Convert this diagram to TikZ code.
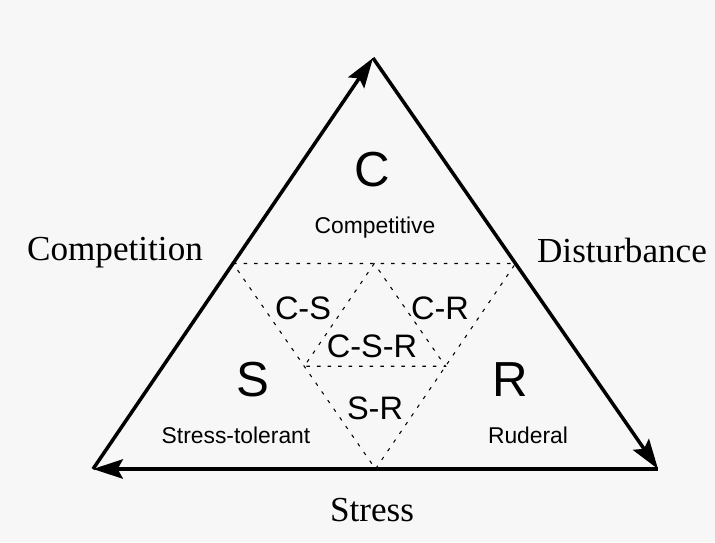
\documentclass[tikz,border=0pt]{standalone}
\usepackage{fontspec}
\setmainfont{Liberation Serif}
\setsansfont{Liberation Sans}
\usepackage{tikz}
\usetikzlibrary{arrows.meta,calc}

\begin{document}
\begin{tikzpicture}[line join=miter,
                    side/.style={line width=2pt, -{Stealth[length=17pt,width=11pt,inset=3pt]}},
                    split/.style={line width=0.6pt, dash pattern=on 2pt off 4pt},
                    axis/.style={font=\fontsize{20}{24}\selectfont},
                    corner/.style={font=\sffamily\fontsize{28}{32}\selectfont},
                    kind/.style={font=\sffamily\fontsize{13}{15}\selectfont},
                    mixed/.style={font=\sffamily\fontsize{18.5}{22}\selectfont}]
    %\draw[help lines] (0,0) grid (14,10);
    \useasboundingbox[fill=black!3] (0,0) rectangle (14.3,10.84);

   \coordinate (top) at (7.46,9.68);
   \coordinate (left) at (1.86,1.46);
   \coordinate (right) at (13.16,1.46);

   % midpoints of the sides
   \coordinate (lmid) at ($(left)!0.5!(top)$);
   \coordinate (rmid) at ($(right)!0.5!(top)$);
   \coordinate (bmid) at ($(left)!0.5!(right)$);
   % inner triangle
   \coordinate (tin) at ($(lmid)!0.5!(rmid)$);
   \coordinate (lin) at ($(lmid)!0.5!(bmid)$);
   \coordinate (rin) at ($(rmid)!0.5!(bmid)$);

   % dotted subdivisions
   \draw[split] (lmid) -- (rmid) -- (bmid) -- cycle;
   \draw[split] (tin) -- (lin) -- (rin) -- cycle;

   % sides with arrows
   \draw[side] (left) -- (top);
   \draw[side] (top) -- (right);
   \draw[side] (right) -- (left);

   % axis labels
   \node[axis] (competition) at (2.3,5.78) {Competition};
   \node[axis] (disturbance) at (12.44,5.84) {Disturbance};
   \node[axis] (stress) at (7.44,0.64) {Stress};

   % strategies
   \node[corner] (c) at (7.44,7.44) {C};
   \node[kind] (competitive) at (7.5,6.28) {Competitive};
   \node[corner] (s) at (5.06,3.24) {S};
   \node[kind] (tolerant) at (4.72,2.14) {Stress-tolerant};
   \node[corner] (r) at (10.2,3.24) {R};
   \node[kind] (ruderal) at (10.56,2.14) {Ruderal};

   \node[mixed] (cs) at (6.06,4.68) {C-S};
   \node[mixed] (cr) at (8.8,4.68) {C-R};
   \node[mixed] (csr) at (7.44,3.92) {C-S-R};
   \node[mixed] (sr) at (7.5,2.68) {S-R};

\end{tikzpicture}
\end{document}
